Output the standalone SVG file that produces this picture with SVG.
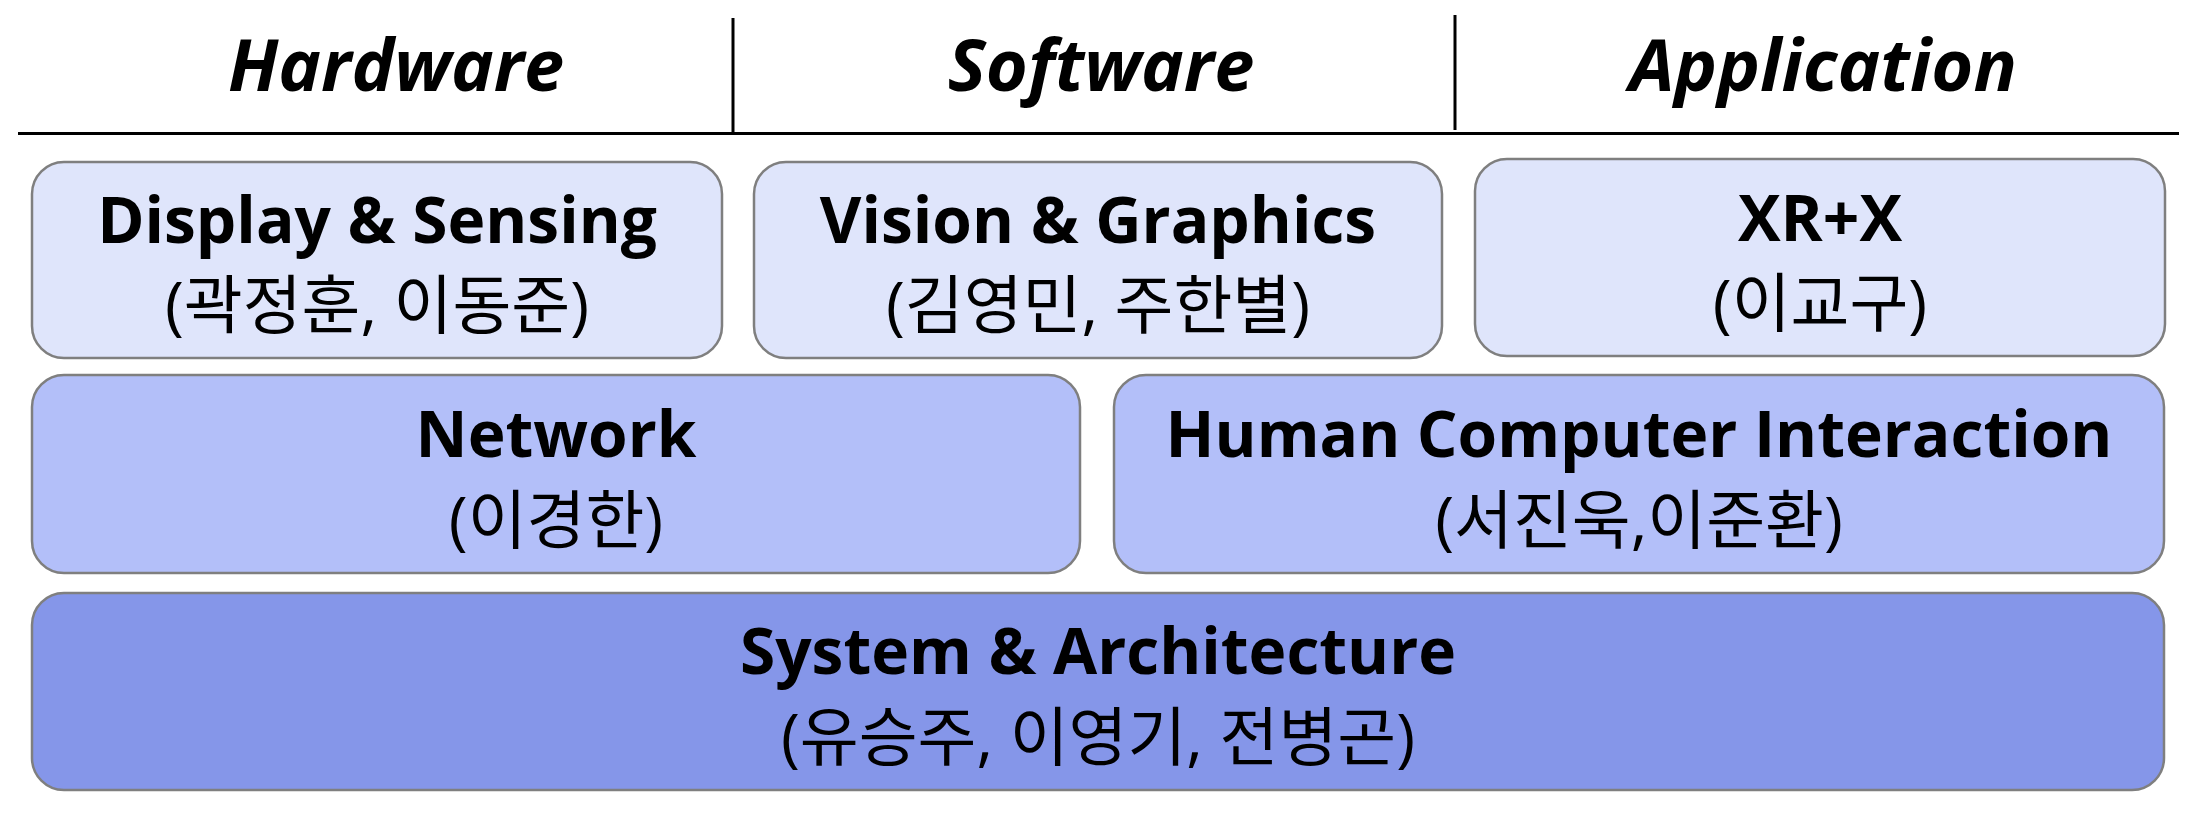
<svg xmlns="http://www.w3.org/2000/svg" width="2204" height="818" viewBox="0 0 2204 818">
<style>
.box{stroke:#7f7f7f;stroke-width:2.5}
.r1{fill:#dfe5fb}
.r2{fill:#b3bff9}
.r3{fill:#8596e9}
.t{font-family:"Open Sans","Noto Sans CJK KR",sans-serif;font-weight:700;font-size:64px;fill:#000;text-anchor:middle}
.k{font-family:"Open Sans","Noto Sans CJK KR",sans-serif;font-weight:400;font-size:64px;fill:#000;text-anchor:middle}
.h{font-family:"Open Sans","Noto Sans CJK KR",sans-serif;font-weight:700;font-style:italic;font-size:72px;fill:#000;text-anchor:middle}
.ln{stroke:#000;stroke-width:3;fill:none}
</style>
<rect width="2204" height="818" fill="#fff"/>
<g id="header">
<line class="ln" x1="18" y1="133.5" x2="2179" y2="133.5"/>
<line class="ln" x1="733" y1="18" x2="733" y2="132"/>
<line class="ln" x1="1455" y1="15" x2="1455" y2="130"/>
<text class="h" x="396" y="91">Hardware</text>
<text class="h" x="1101" y="91">Software</text>
<text class="h" x="1823" y="91">Application</text>
</g>
<g id="display">
<rect class="box r1" x="32" y="162" width="690" height="196" rx="32"/>
<text class="t" x="377" y="243">Display &amp; Sensing</text>
<text class="k" x="377" y="328">(곽정훈, 이동준)</text>
</g>
<g id="vision">
<rect class="box r1" x="754" y="162" width="688" height="196" rx="32"/>
<text class="t" x="1098" y="243">Vision &amp; Graphics</text>
<text class="k" x="1098" y="328">(김영민, 주한별)</text>
</g>
<g id="xr">
<rect class="box r1" x="1475" y="159" width="690" height="197" rx="32"/>
<text class="t" x="1820" y="241">XR+X</text>
<text class="k" x="1820" y="326">(이교구)</text>
</g>
<g id="network">
<rect class="box r2" x="32" y="375" width="1048" height="198" rx="32"/>
<text class="t" x="556" y="457">Network</text>
<text class="k" x="556" y="543">(이경한)</text>
</g>
<g id="hci">
<rect class="box r2" x="1114" y="375" width="1050" height="198" rx="32"/>
<text class="t" x="1639" y="457">Human Computer Interaction</text>
<text class="k" x="1639" y="543">(서진욱,이준환)</text>
</g>
<g id="system">
<rect class="box r3" x="32" y="593" width="2132" height="197" rx="32"/>
<text class="t" x="1098" y="674">System &amp; Architecture</text>
<text class="k" x="1098" y="760">(유승주, 이영기, 전병곤)</text>
</g>
<g id="connectors"></g>
</svg>
